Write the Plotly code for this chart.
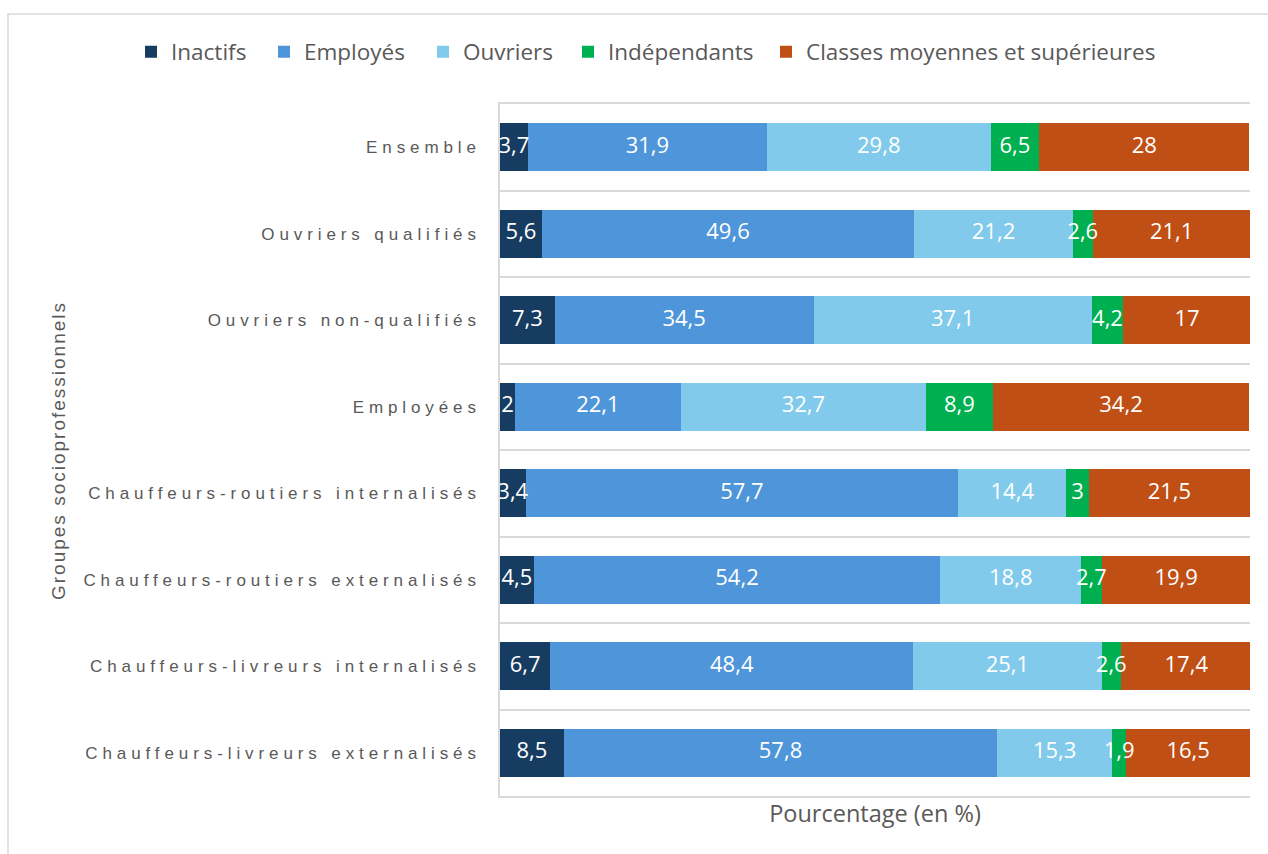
import plotly.graph_objects as go

categories = ["Ensemble", "Ouvriers qualifiés", "Ouvriers non-qualifiés", "Employées",
              "Chauffeurs-routiers internalisés", "Chauffeurs-routiers externalisés",
              "Chauffeurs-livreurs internalisés", "Chauffeurs-livreurs externalisés"]
inactifs = [3.7, 5.6, 7.3, 2, 3.4, 4.5, 6.7, 8.5]
employes = [31.9, 49.6, 34.5, 22.1, 57.7, 54.2, 48.4, 57.8]
ouvriers = [29.8, 21.2, 37.1, 32.7, 14.4, 18.8, 25.1, 15.3]
independants = [6.5, 2.6, 4.2, 8.9, 3, 2.7, 2.6, 1.9]
classes = [28, 21.1, 17, 34.2, 21.5, 19.9, 17.4, 16.5]

series_names = ["Inactifs", "Employés", "Ouvriers", "Indépendants", "Classes moyennes et supérieures"]
series_values = [inactifs, employes, ouvriers, independants, classes]
series_colors = ["#173c61", "#4f95d9", "#81caeb", "#00b050", "#c04f15"]
legend_square_px = [147, 280, 439, 584, 782]  # legend entry positions (pixels)

GRAY = "#595959"
FONT = "Open Sans"

L, R, T, B = 500, 18, 104, 58
W, H = 1268, 854
pw, ph = W - L - R, H - T - B

def px(x):
    return (x - L) / pw

def py(y):
    return (H - B - y) / ph

def fmt(v):
    s = f"{v:g}"
    return s.replace(".", ",")

fig = go.Figure()
legends = {}
for i, (name, vals, col) in enumerate(zip(series_names, series_values, series_colors)):
    lg = "legend" if i == 0 else f"legend{i + 1}"
    fig.add_trace(go.Bar(
        y=categories, x=vals, name=name, orientation="h", legend=lg, showlegend=True,
        marker=dict(color=col, line=dict(width=0)),
        textposition="none",
    ))
    legends[lg] = dict(orientation="h", xref="paper", yref="paper",
                       x=px(legend_square_px[i] - 16), xanchor="left", y=py(52), yanchor="middle",
                       bgcolor="rgba(0,0,0,0)",
                       font=dict(size=22.5, color=GRAY, family=FONT))

# data labels drawn above all bars, centred in each segment
lab_x, lab_y, lab_t = [], [], []
for j, cat in enumerate(categories):
    base = 0.0
    for vals in series_values:
        v = vals[j]
        lab_x.append(base + v / 2)
        lab_y.append(cat)
        lab_t.append(fmt(v))
        base += v
fig.add_trace(go.Scatter(
    x=lab_x, y=lab_y, text=lab_t, mode="text", showlegend=False, hoverinfo="skip",
    textposition="middle center", cliponaxis=True,
    textfont=dict(color="white", size=22, family=FONT),
))

fig.update_layout(
    width=W, height=H, barmode="stack", bargap=0.445, showlegend=True,
    margin=dict(l=L, r=R, t=T, b=B, autoexpand=False),
    plot_bgcolor="white", paper_bgcolor="white",
    font=dict(family=FONT, color=GRAY),
    xaxis=dict(range=[0, 100], showticklabels=False, showgrid=False, zeroline=False,
               showline=True, mirror=True, linecolor="#d9d9d9", linewidth=1.5, ticks="",
               title=dict(text="Pourcentage (en %)", font=dict(size=23.5, color=GRAY, family=FONT), standoff=9)),
    yaxis=dict(autorange="reversed", tickson="boundaries", showgrid=True, gridcolor="#d9d9d9",
               gridwidth=1.5, showline=True, linecolor="#d9d9d9", linewidth=1.5, ticks="",
               ticklabelstandoff=14,
               tickfont=dict(size=17, color=GRAY, family="Liberation Sans")),
    shapes=[dict(type="rect", xref="paper", yref="paper",
                 x0=px(8), x1=px(W + 10), y0=py(H + 10), y1=py(14),
                 line=dict(color="#d9d9d9", width=1.5), fillcolor="rgba(0,0,0,0)", layer="below")],
    annotations=[dict(text="Groupes socioprofessionnels", xref="paper", yref="paper",
                      x=px(58), y=py(450), textangle=-90, showarrow=False,
                      xanchor="center", yanchor="middle",
                      font=dict(size=19, color=GRAY, family="Liberation Sans"))],
    **legends,
)

post = """
var s = document.createElement('style');
s.innerHTML = '.ytick text{letter-spacing:4.9px;} .annotation-text{letter-spacing:2px;} body{margin:0;}';
document.head.appendChild(s);
"""
fig.write_html("out.html", post_script=post, config={"displayModeBar": False})
